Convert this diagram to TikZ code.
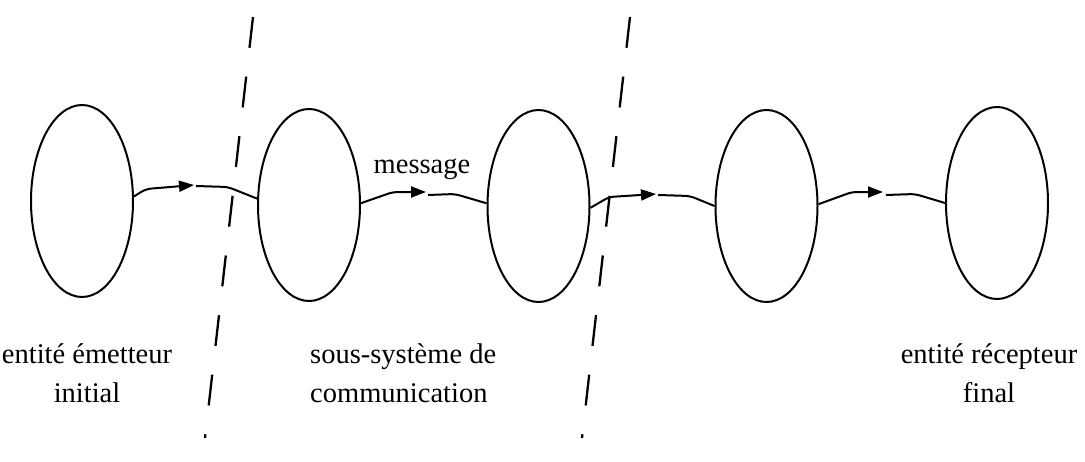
\documentclass[tikz,border=0pt]{standalone}
\usepackage{fontspec}
\setmainfont{Liberation Serif}
\usetikzlibrary{shapes.geometric,arrows.meta}
\begin{document}
\begin{tikzpicture}[x=1pt,y=-1pt,
  ent/.style={draw,ellipse,line width=2pt,minimum width=102pt,minimum height=192pt,inner sep=0pt},
  link/.style={line width=2pt,rounded corners=5pt},
  arr/.style={link,-{Triangle[length=15pt,width=11pt]}},
  frontier/.style={line width=2.3pt,dash pattern=on 31pt off 29pt},
  lbl/.style={font=\fontsize{28.5}{39}\selectfont,inner sep=0pt}]
\useasboundingbox (0,0) rectangle (1085,461);
% entities
\node[ent] (e1) at (82,201) {};
\node[ent] (e2) at (309,205) {};
\node[ent] (e3) at (538.5,206) {};
\node[ent] (e4) at (766.5,206) {};
\node[ent] (e5) at (997,203) {};
% arrow tips
\coordinate (t1) at (194,185);
\coordinate (t2) at (426,192);
\coordinate (t3) at (656,194);
\coordinate (t4) at (883,192);
% connectors
\draw[arr] (e1.5) -- (146,189) -- (t1);
\draw[link] ([xshift=2pt,yshift=-1pt]t1) -- (228,187) -- (e2.173);
\draw[arr] (e2.2) -- (393,192) -- (t2);
\draw[link] ([xshift=2pt,yshift=-3pt]t2) -- (455,194) -- (e3.177);
\draw[arr] (e3.358) -- (609,197) -- (t3);
\draw[link] ([xshift=2pt,yshift=-1pt]t3) -- (690,196) -- (e4.west);
\draw[arr] (e4.2) -- (852,192) -- (t4);
\draw[link] ([xshift=3pt,yshift=-3pt]t4) -- (915,194) -- (e5.west);
% frontiers
\coordinate (f1a) at (253,17);
\coordinate (f1b) at (205,438);
\coordinate (f2a) at (630,17);
\coordinate (f2b) at (582,438);
\draw[frontier] (f1a) -- (f1b);
\draw[frontier] (f2a) -- (f2b);
% labels
\node[lbl,anchor=base] (msg) at (422,173) {message};
\node[lbl,align=center,anchor=base] (l1) at (87,402) {entité émetteur\\initial};
\node[lbl,align=left,anchor=base west] (l2) at (310,402) {sous-système de\\communication};
\node[lbl,align=center,anchor=base] (l3) at (989,402) {entité récepteur\\final};
\end{tikzpicture}
\end{document}
